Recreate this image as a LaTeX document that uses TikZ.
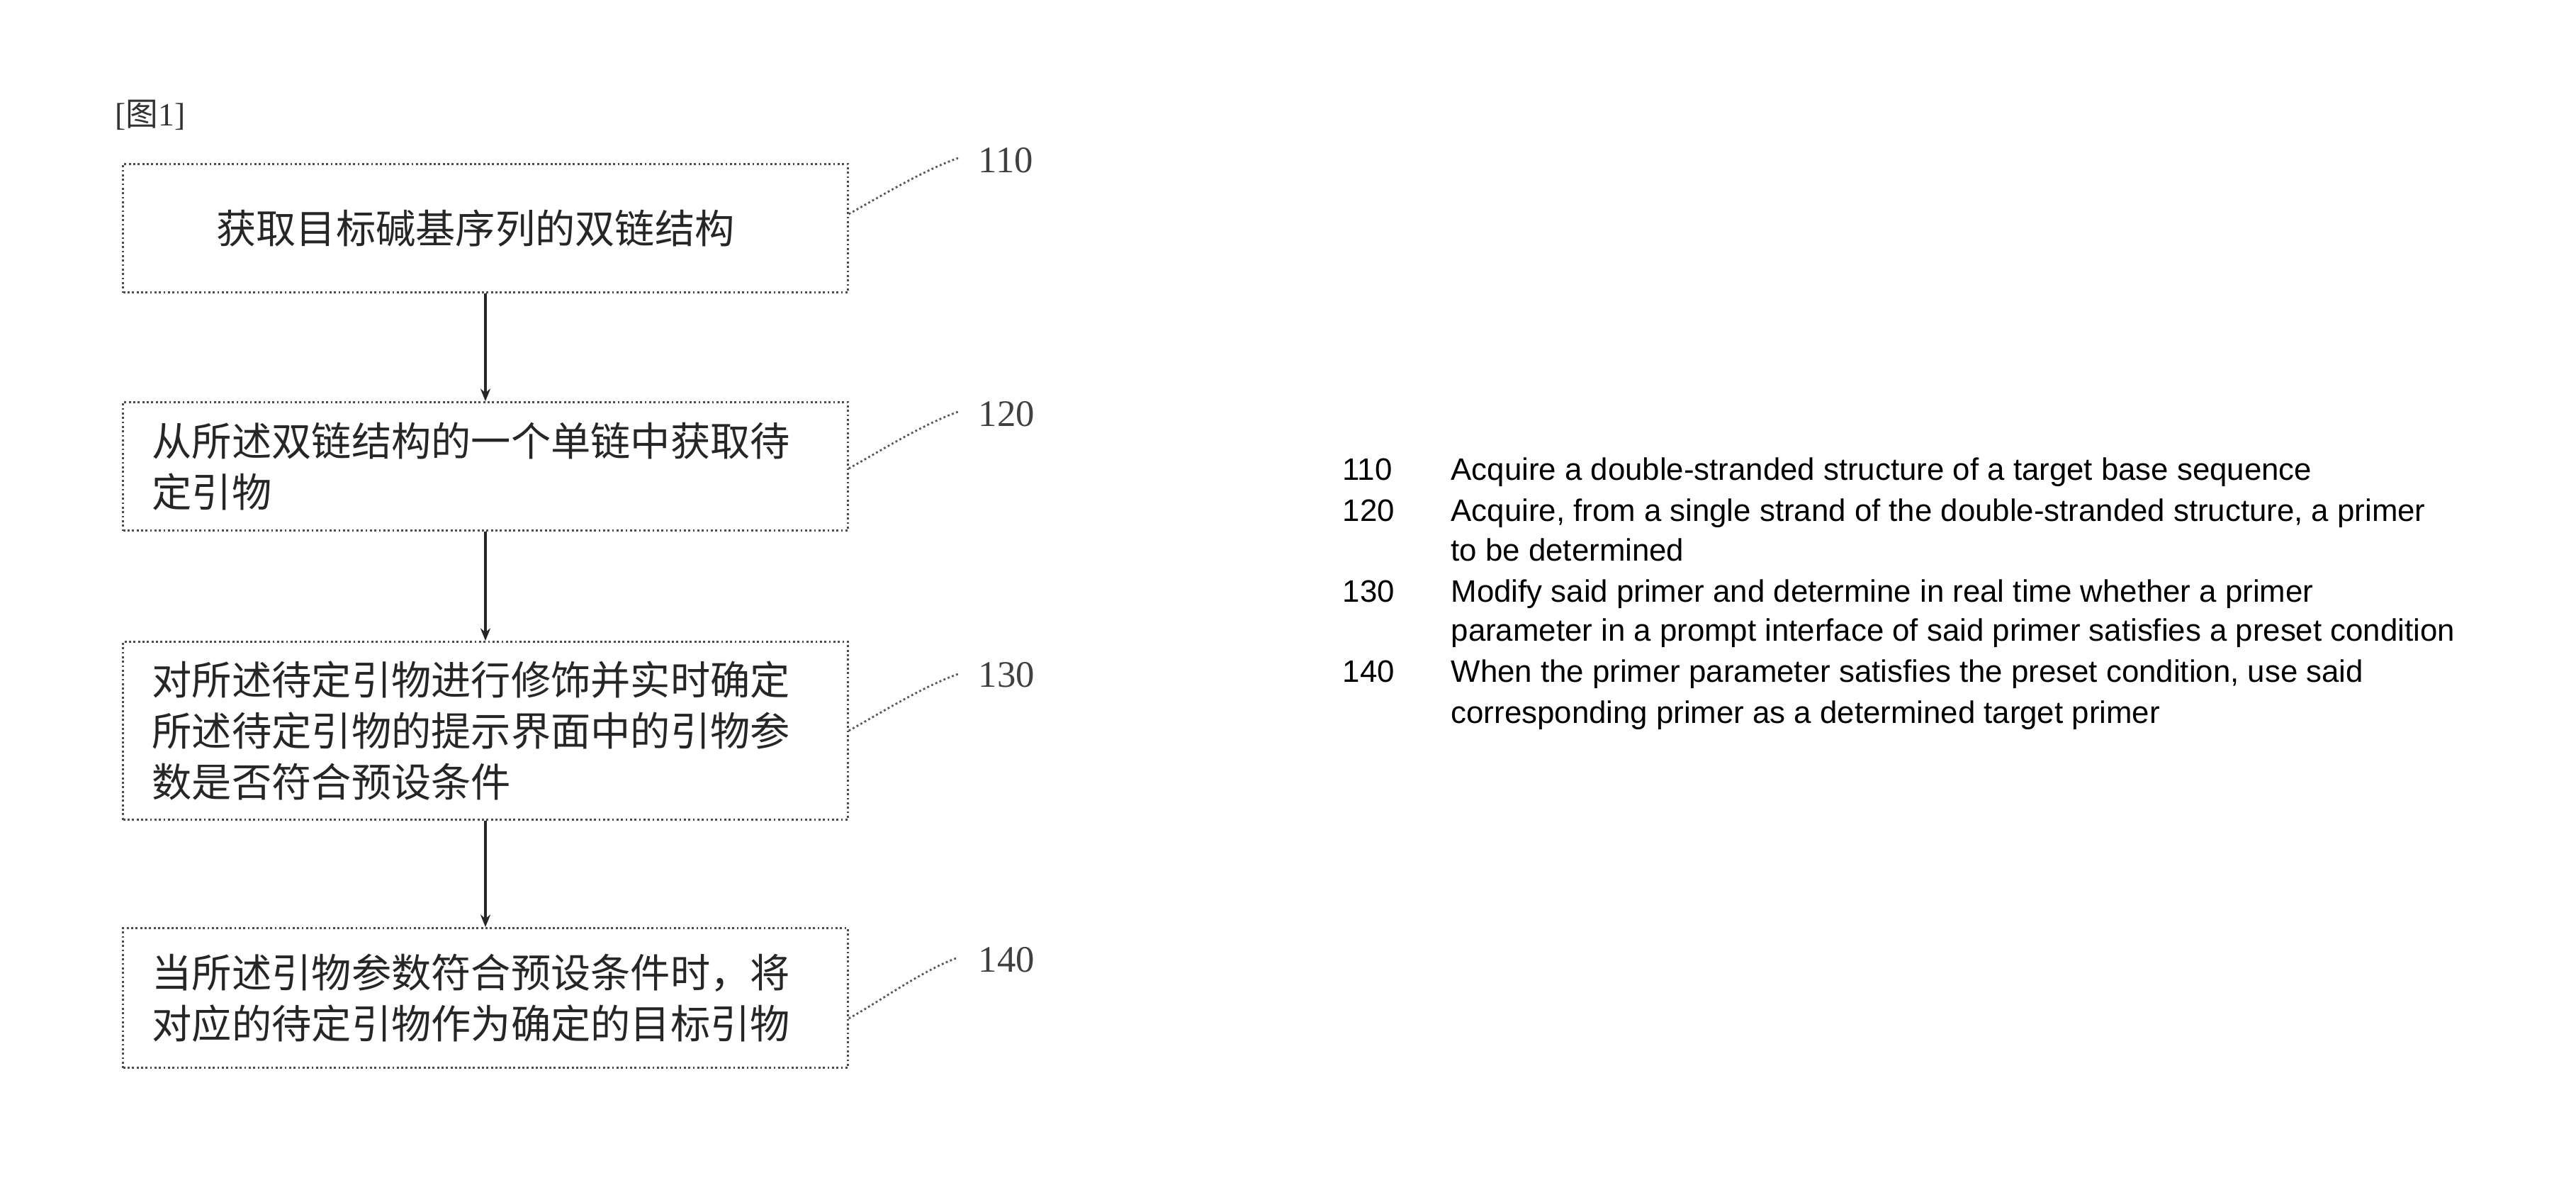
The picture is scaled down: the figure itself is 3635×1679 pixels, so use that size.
\documentclass[tikz,border=0pt]{standalone}
\usepackage{fontspec}
\setmainfont{Liberation Sans}
\newfontfamily\cjk{Noto Sans CJK SC}
\newfontfamily\serifr{Liberation Serif}
\usetikzlibrary{arrows.meta}
\begin{document}
\begin{tikzpicture}[x=0.01cm,y=-0.01cm,
  stepbox/.style={draw=black!70, densely dotted, line width=0.8pt, minimum width=10.22cm,
    text width=9.4cm, font=\cjk\fontsize{16}{20.5}\selectfont, inner sep=0pt, text=black!85},
  flow/.style={draw=black!85, line width=1pt, -{Stealth[length=5pt,width=4pt]}},
  leader/.style={draw=black!65, densely dotted, line width=0.8pt},
  reflab/.style={font=\serifr\fontsize{15}{15}\selectfont, text=black!75, anchor=west, inner sep=0pt},
  engnum/.style={font=\fontsize{12.45}{14}\selectfont, anchor=base west, inner sep=0pt},
  engtxt/.style={font=\fontsize{12.45}{14}\selectfont, anchor=base west, inner sep=0pt}]
\useasboundingbox (0,0) rectangle (3635,1679);

\node[anchor=west, inner sep=0pt, font=\serifr\fontsize{13}{13}\selectfont, text=black!80] (title) at (162,162) {[{\cjk 图}1]};

\node[stepbox, align=center, minimum height=1.81cm] (s110) at (685,322) {获取目标碱基序列的双链结构\hspace*{0.28cm}};
\node[stepbox, align=left, minimum height=1.81cm] (s120) at (685,658) {从所述双链结构的一个单链中获取待\\定引物};
\node[stepbox, align=left, minimum height=2.51cm] (s130) at (685,1031) {对所述待定引物进行修饰并实时确定\\所述待定引物的提示界面中的引物参\\数是否符合预设条件};
\node[stepbox, align=left, minimum height=1.97cm] (s140) at (685,1408) {当所述引物参数符合预设条件时，将\\对应的待定引物作为确定的目标引物};

\draw[flow] (s110) -- (s120);
\draw[flow] (s120) -- (s130);
\draw[flow] (s130) -- (s140);

\node[reflab] (n110) at (1380,226) {110};
\node[reflab] (n120) at (1380,584) {120};
\node[reflab] (n130) at (1380,952) {130};
\node[reflab] (n140) at (1380,1354) {140};

\draw[leader] ([yshift=0.2cm]s110.east) .. controls +(50,-28) and +(-50,18) .. ([xshift=-0.28cm,yshift=0.03cm]n110.west);
\draw[leader] ([yshift=-0.03cm]s120.east) .. controls +(50,-28) and +(-50,18) .. ([xshift=-0.28cm,yshift=0.03cm]n120.west);
\draw[leader] (s130.east) .. controls +(50,-28) and +(-50,18) .. ([xshift=-0.28cm,yshift=0.01cm]n130.west);
\draw[leader] ([yshift=-0.29cm]s140.east) .. controls +(50,-28) and +(-50,18) .. ([xshift=-0.28cm,yshift=0.03cm]n140.west);

\node[engnum] (e110) at (1894,677) {110};
\node[engtxt] (t110a) at (2047,677) {Acquire a double-stranded structure of a target base sequence};
\node[engnum] (e120) at (1894,735) {120};
\node[engtxt] (t120a) at (2047,735) {Acquire, from a single strand of the double-stranded structure, a primer};
\node[engtxt] (t120b) at (2047,791) {to be determined};
\node[engnum] (e130) at (1894,849) {130};
\node[engtxt] (t130a) at (2047,849) {Modify said primer and determine in real time whether a primer};
\node[engtxt] (t130b) at (2047,904) {parameter in a prompt interface of said primer satisfies a preset condition};
\node[engnum] (e140) at (1894,962) {140};
\node[engtxt] (t140a) at (2047,962) {When the primer parameter satisfies the preset condition, use said};
\node[engtxt] (t140b) at (2047,1020) {corresponding primer as a determined target primer};
\end{tikzpicture}
\end{document}
